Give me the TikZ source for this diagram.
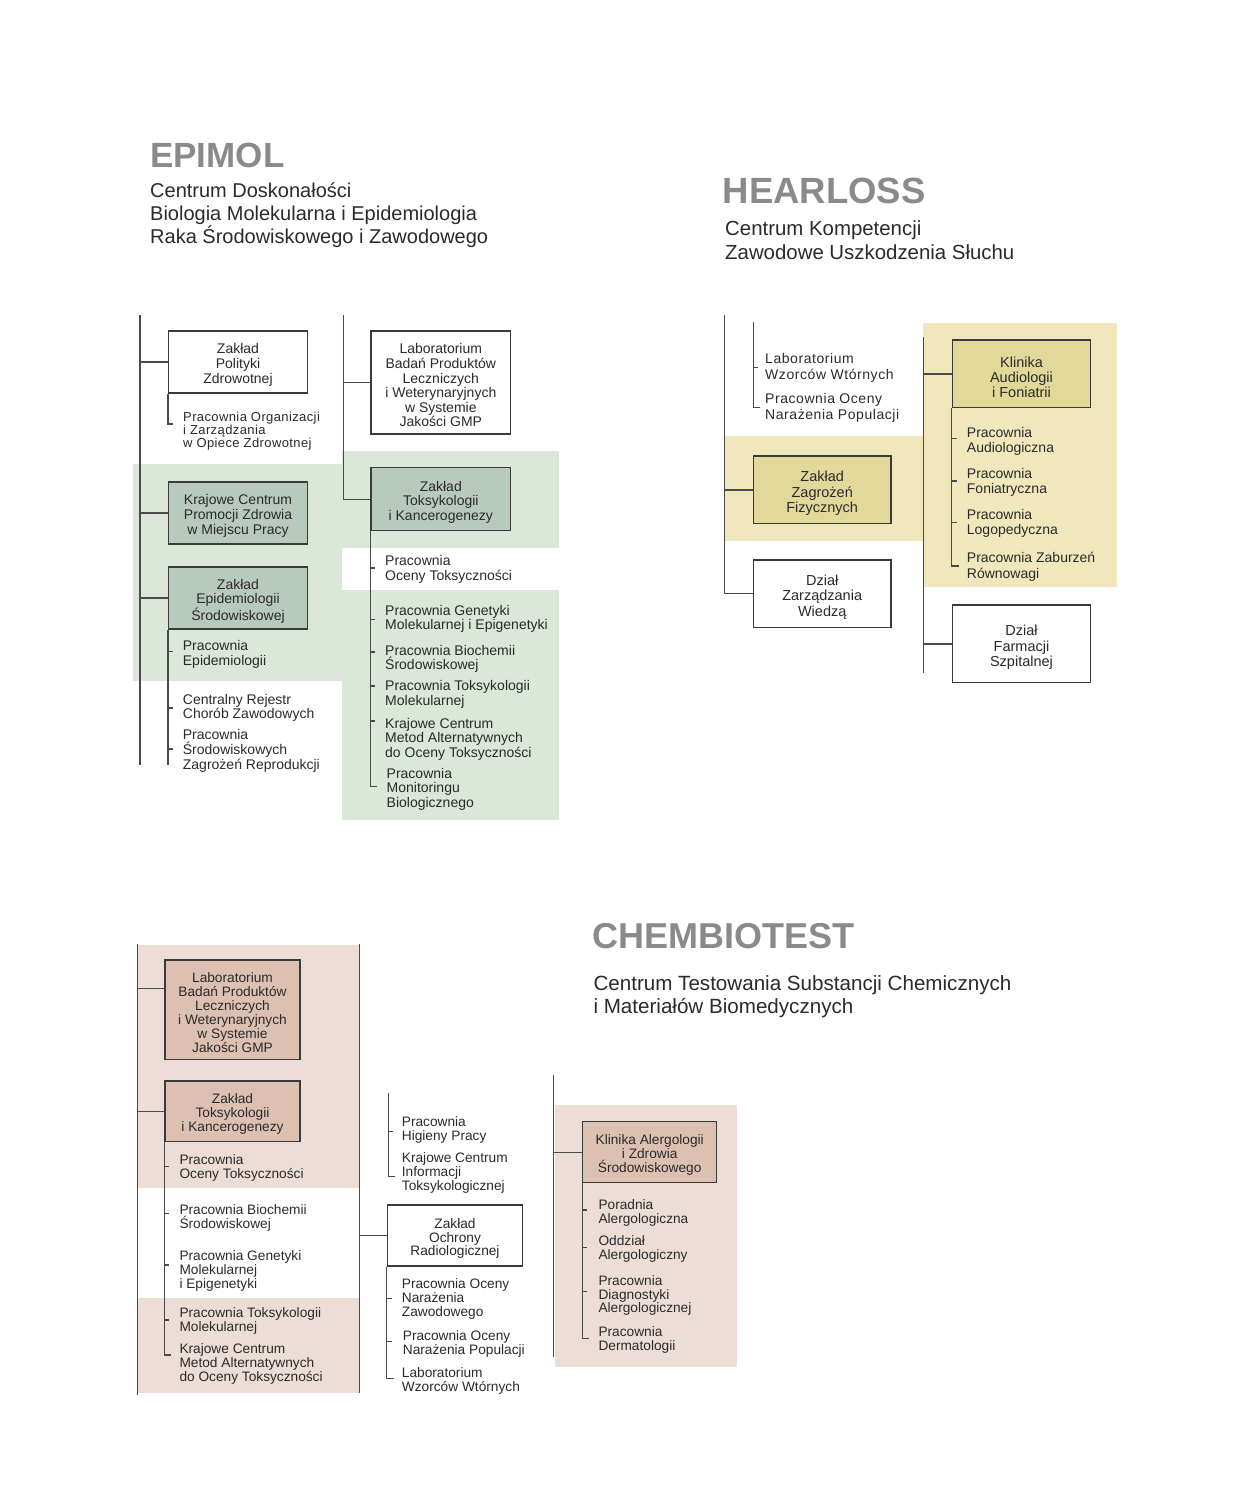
\documentclass[tikz,border=0pt]{standalone}
\usepackage{fontspec}
\setmainfont{Liberation Sans}
\newfontfamily\spacedfont[LetterSpace=4]{Liberation Sans}
\newfontfamily\spacedfontb[LetterSpace=3]{Liberation Sans}
\definecolor{linec}{HTML}{4A4A4A}
\definecolor{boxc}{HTML}{3A3A3A}
\definecolor{txt}{HTML}{2A2A2A}
\definecolor{titlec}{HTML}{8A8A8A}
\definecolor{grnbg}{HTML}{DAE7D9}
\definecolor{grnbox}{HTML}{B8CABE}
\definecolor{ylwbg}{HTML}{F0E8BC}
\definecolor{ylwbox}{HTML}{E1D89A}
\definecolor{pnkbg}{HTML}{ECDED7}
\definecolor{pnkbox}{HTML}{DCC1B2}
\newcommand\tk[2]{\draw[conn] (#1 |- 0,#2) -- ++(5,0);}
\newcommand\bta{\rule{0pt}{16pt}}
\newcommand\btb{\rule{0pt}{17.5pt}}
\tikzset{
  conn/.style={line width=1.2pt, draw=linec},
  box/.style={draw=boxc, line width=1.2pt, align=center, inner sep=0pt, text=txt},
  item/.style={anchor=north west, align=left, inner sep=0pt, text=txt},
  titletext/.style={anchor=north west, inner sep=0pt, text=titlec, font=\fontsize{35}{40}\selectfont\bfseries},
  subtext/.style={anchor=north west, align=left, inner sep=0pt, text=txt},
}
\begin{document}
\begin{tikzpicture}[x=1pt,y=-1pt]
\useasboundingbox (0,0) rectangle (1240,1491);
% ---------- backgrounds ----------
\fill[grnbg] (133,464.3) rectangle (342,681);
\fill[grnbg] (342,451) rectangle (559,548.3);
\fill[grnbg] (342,590) rectangle (559,820);
\fill[ylwbg] (724,436) rectangle (922.7,541);
\fill[ylwbg] (922.7,323.3) rectangle (1116.7,587.3);
\fill[pnkbg] (137,945) rectangle (359,1188.3);
\fill[pnkbg] (137,1298.3) rectangle (359,1393.3);
\fill[pnkbg] (555,1105) rectangle (736.7,1366.7);

% ---------- titles ----------
\node[titletext] (t1) at (150,143.3) {EPIMOL};
\node[subtext, font=\fontsize{20}{23}\selectfont] (s1) at (150,183) {Centrum Doskonałości\\Biologia Molekularna i Epidemiologia\\Raka Środowiskowego i Zawodowego};
\node[titletext, font=\fontsize{36.5}{40}\selectfont\bfseries] (t2) at (722.5,177.5) {HEARLOSS};
\node[subtext, font=\fontsize{20.4}{24}\selectfont] (s2) at (725,220.5) {Centrum Kompetencji\\Zawodowe Uszkodzenia Słuchu};
\node[titletext, font=\fontsize{36}{40}\selectfont\bfseries] (t3) at (592,922.7) {CHEMBIOTEST};
\node[subtext, font=\fontsize{20.6}{23.3}\selectfont] (s3) at (593.3,975.5) {Centrum Testowania Substancji Chemicznych\\i Materiałów Biomedycznych};

% ---------- EPIMOL ----------
\begin{scope}[every node/.append style={font=\fontsize{14}{14.6}\selectfont}]
\node[box, fill=white, minimum width=139pt, minimum height=62pt] (ep1) at (238,362) {\bta Zakład\\Polityki\\Zdrowotnej};
\node[box, fill=grnbox, minimum width=139pt, minimum height=62pt] (ep2) at (238,513) {\bta Krajowe Centrum\\Promocji Zdrowia\\w Miejscu Pracy};
\node[box, fill=grnbox, minimum width=139pt, minimum height=62pt] (ep3) at (238,598) {\bta Zakład\\Epidemiologii\\Środowiskowej};
\node[box, fill=white, minimum width=139.7pt, minimum height=103pt] (ep4) at (440.8,382.5) {\bta Laboratorium\\Badań Produktów\\Leczniczych\\i Weterynaryjnych\\w Systemie\\Jakości GMP};
\node[box, fill=grnbox, minimum width=139.7pt, minimum height=63pt] (ep5) at (440.8,499.2) {\bta Zakład\\Toksykologii\\i Kancerogenezy};
\end{scope}

\node[item, font=\spacedfontb\fontsize{13}{13.4}\selectfont] (ei1) at (183,411.5) {Pracownia Organizacji\\i Zarządzania\\w Opiece Zdrowotnej};
\begin{scope}[every node/.append style={font=\fontsize{14}{14.6}\selectfont}]
\node[item] (ei2) at (182.7,640.5) {Pracownia\\Epidemiologii};
\node[item] (ei3) at (182.7,694) {Centralny Rejestr\\Chorób Zawodowych};
\node[item] (ei4) at (182.7,729.5) {Pracownia\\Środowiskowych\\Zagrożeń Reprodukcji};
\node[item] (ej1) at (385,555.5) {Pracownia\\Oceny Toksyczności};
\node[item] (ej2) at (385,605) {Pracownia Genetyki\\Molekularnej i Epigenetyki};
\node[item] (ej3) at (385,645) {Pracownia Biochemii\\Środowiskowej};
\node[item] (ej4) at (385,680.5) {Pracownia Toksykologii\\Molekularnej};
\node[item] (ej5) at (385,718) {Krajowe Centrum\\Metod Alternatywnych\\do Oceny Toksyczności};
\node[item] (ej6) at (386.5,768) {Pracownia\\Monitoringu\\Biologicznego};
\end{scope}

\coordinate (e1t) at (140,315);
\coordinate (e1b) at (140,765);
\draw[conn] (e1t) -- (e1b);
\draw[conn] (ep1.west) -- (ep1.west -| e1t);
\draw[conn] (ep2.west) -- (ep2.west -| e1t);
\draw[conn] (ep3.west) -- (ep3.west -| e1t);
\draw[conn] (ep1.south west) -- (ep1.south west |- 0,424) -- ++(5,0);
\draw[conn] (ep3.south west) -- (ep3.south west |- 0,765);
\tk{ep3.south west}{651.7}
\tk{ep3.south west}{708}
\tk{ep3.south west}{749}

\coordinate (e2t) at (343.3,315);
\draw[conn] (e2t) -- (e2t |- ep5.west) -- (ep5.west);
\draw[conn] (ep4.west) -- (ep4.west -| e2t);
\draw[conn] (ep5.south west) -- (ep5.south west |- 0,786.7) -- ++(7,0);
\tk{ep5.south west}{568}
\tk{ep5.south west}{619.3}
\tk{ep5.south west}{652}
\tk{ep5.south west}{686}
\tk{ep5.south west}{721}

% ---------- HEARLOSS ----------
\begin{scope}[every node/.append style={font=\fontsize{14.5}{15.3}\selectfont}]
\node[box, fill=ylwbox, minimum width=137.7pt, minimum height=67.7pt] (hz1) at (822.2,489.9) {\btb Zakład\\Zagrożeń\\Fizycznych};
\node[box, fill=white, minimum width=137.7pt, minimum height=67.3pt] (hz2) at (822.2,593.7) {\btb Dział\\Zarządzania\\Wiedzą};
\node[box, fill=ylwbox, minimum width=138.4pt, minimum height=67.7pt] (hk) at (1021.5,373.9) {\btb Klinika\\Audiologii\\i Foniatrii};
\node[box, fill=white, minimum width=138.4pt, minimum height=77.7pt] (hf) at (1021.5,643.9) {\btb Dział\\Farmacji\\Szpitalnej};
\end{scope}
\begin{scope}[every node/.append style={font=\spacedfont\fontsize{14}{15.8}\selectfont}]
\node[item] (hi1) at (765,353.3) {Laboratorium\\Wzorców Wtórnych};
\node[item] (hi2) at (765,393.3) {Pracownia Oceny\\Narażenia Populacji};
\end{scope}
\begin{scope}[every node/.append style={font=\fontsize{14}{15.8}\selectfont}]
\node[item] (hj1) at (966.7,426.7) {Pracownia\\Audiologiczna};
\node[item] (hj2) at (966.7,467.8) {Pracownia\\Foniatryczna};
\node[item] (hj3) at (966.7,508.8) {Pracownia\\Logopedyczna};
\node[item] (hj4) at (966.7,551.7) {Pracownia Zaburzeń\\Równowagi};
\end{scope}

\coordinate (h1t) at (724.3,315);
\draw[conn] (h1t) -- (h1t |- hz2.west) -- (hz2.west);
\draw[conn] (hz1.west) -- (hz1.west -| h1t);
\coordinate (h2t) at (753.3,321.7);
\coordinate (h2b) at (753.3,407.3);
\draw[conn] (h2t) -- (h2b) -- ++(7,0);
\tk{h2t}{367.3}
\coordinate (h3t) at (923.3,337.3);
\coordinate (h3b) at (923.3,672.7);
\draw[conn] (h3t) -- (h3b);
\draw[conn] (hk.west) -- (hk.west -| h3t);
\draw[conn] (hf.west) -- (hf.west -| h3t);
\draw[conn] (hk.south west) -- (hk.south west |- 0,566) -- ++(7,0);
\tk{hk.south west}{438.3}
\tk{hk.south west}{481}
\tk{hk.south west}{522.7}

% ---------- CHEMBIOTEST ----------
\begin{scope}[every node/.append style={font=\fontsize{13.7}{13.9}\selectfont}]
\node[box, fill=pnkbox, minimum width=135pt, minimum height=99.3pt] (cl) at (232.5,1009.7) {\bta Laboratorium\\Badań Produktów\\Leczniczych\\i Weterynaryjnych\\w Systemie\\Jakości GMP};
\node[box, fill=pnkbox, minimum width=135pt, minimum height=60.7pt] (ct) at (232.5,1111.3) {\bta Zakład\\Toksykologii\\i Kancerogenezy};
\node[box, fill=white, minimum width=135.4pt, minimum height=61pt] (co) at (455,1235.5) {\bta Zakład\\Ochrony\\Radiologicznej};
\node[box, fill=pnkbox, minimum width=134pt, minimum height=61pt] (ck) at (649.7,1152.2) {\bta Klinika Alergologii\\i Zdrowia\\Środowiskowego};
\end{scope}
\begin{scope}[every node/.append style={font=\fontsize{13.7}{13.9}\selectfont}]
\node[item] (ci1) at (179.3,1154.5) {Pracownia\\Oceny Toksyczności};
\node[item] (ci2) at (179.3,1204) {Pracownia Biochemii\\Środowiskowej};
\node[item] (ci3) at (179.3,1250.5) {Pracownia Genetyki\\Molekularnej\\i Epigenetyki};
\node[item] (ci4) at (179.3,1307.3) {Pracownia Toksykologii\\Molekularnej};
\node[item] (ci5) at (179.3,1343.5) {Krajowe Centrum\\Metod Alternatywnych\\do Oceny Toksyczności};
\node[item] (cm1) at (401.7,1116.8) {Pracownia\\Higieny Pracy};
\node[item] (cm2) at (401.7,1152.5) {Krajowe Centrum\\Informacji\\Toksykologicznej};
\node[item] (cm3) at (401.7,1278.5) {Pracownia Oceny\\Narażenia\\Zawodowego};
\node[item] (cm4) at (402.7,1330) {Pracownia Oceny\\Narażenia Populacji};
\node[item] (cm5) at (401.7,1367.5) {Laboratorium\\Wzorców Wtórnych};
\node[item] (cr1) at (598.3,1199.7) {Poradnia\\Alergologiczna};
\node[item] (cr2) at (598.3,1235.7) {Oddział\\Alergologiczny};
\node[item] (cr3) at (598.3,1275) {Pracownia\\Diagnostyki\\Alergologicznej};
\node[item] (cr4) at (598.3,1326) {Pracownia\\Dermatologii};
\end{scope}

\coordinate (c1t) at (137.3,944);
\coordinate (c1b) at (137.3,1395);
\draw[conn] (c1t) -- (c1b);
\path (cl.north west) ++(0,29.3) coordinate (clc);
\draw[conn] (clc) -- (clc -| c1t);
\draw[conn] (ct.west) -- (ct.west -| c1t);
\draw[conn] (ct.south west) -- (ct.south west |- 0,1355) -- ++(7,0);
\tk{ct.south west}{1166.7}
\tk{ct.south west}{1213.3}
\tk{ct.south west}{1265}
\tk{ct.south west}{1320}

\coordinate (c2t) at (359.3,944);
\coordinate (c2b) at (359.3,1393.3);
\draw[conn] (c2t) -- (c2b);
\draw[conn] (co.west) -- (co.west -| c2t);
\coordinate (c3t) at (388.3,1092.7);
\coordinate (c3b) at (388.3,1176.7);
\draw[conn] (c3t) -- (c3b) -- ++(7,0);
\tk{c3t}{1131.7}
\draw[conn] (co.south west) -- (co.south west |- 0,1378.3) -- ++(7,0);
\tk{co.south west}{1298.3}
\tk{co.south west}{1341.7}

\coordinate (c4t) at (553.3,1075);
\coordinate (c4b) at (553.3,1356.7);
\draw[conn] (c4t) -- (c4b);
\draw[conn] (ck.west) -- (ck.west -| c4t);
\draw[conn] (ck.south west) -- (ck.south west |- 0,1338.3) -- ++(7,0);
\tk{ck.south west}{1210}
\tk{ck.south west}{1247.3}
\tk{ck.south west}{1291.7}
\end{tikzpicture}
\end{document}
